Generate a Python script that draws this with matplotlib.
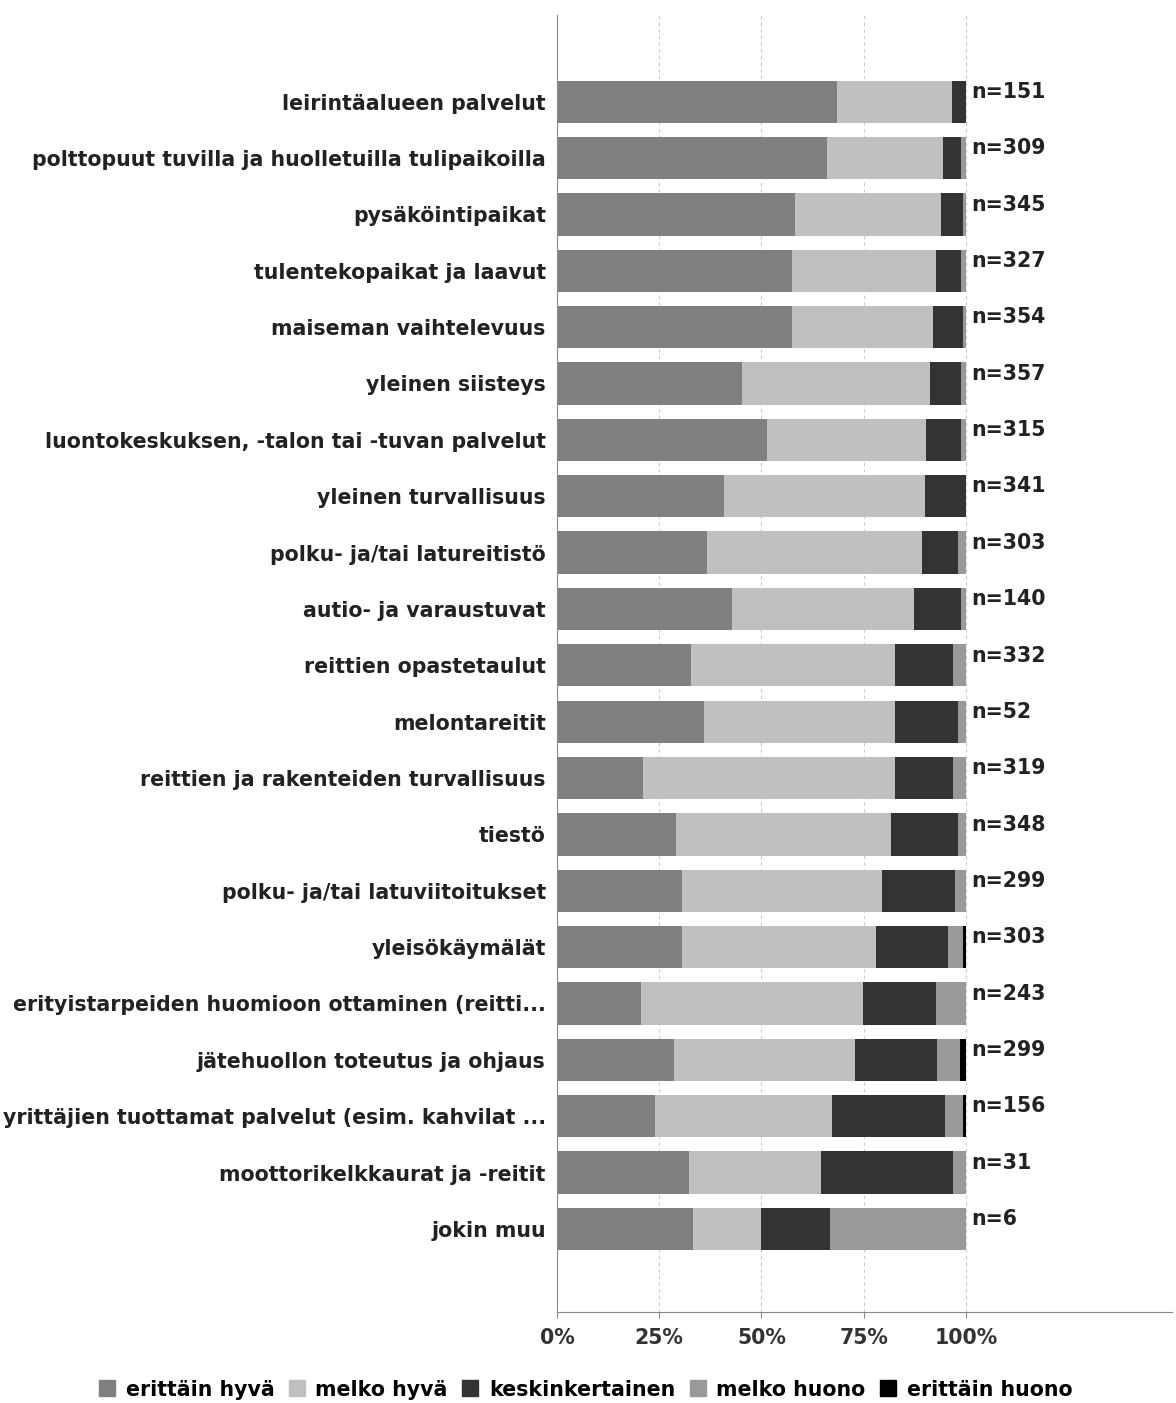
import matplotlib
matplotlib.use('Agg')
import matplotlib.pyplot as plt
from matplotlib.lines import Line2D

# data (percent shares per answer class)
categories = [
    'leirintäalueen palvelut',
    'polttopuut tuvilla ja huolletuilla tulipaikoilla',
    'pysäköintipaikat',
    'tulentekopaikat ja laavut',
    'maiseman vaihtelevuus',
    'yleinen siisteys',
    'luontokeskuksen, -talon tai -tuvan palvelut',
    'yleinen turvallisuus',
    'polku- ja/tai latureitistö',
    'autio- ja varaustuvat',
    'reittien opastetaulut',
    'melontareitit',
    'reittien ja rakenteiden turvallisuus',
    'tiestö',
    'polku- ja/tai latuviitoitukset',
    'yleisökäymälät',
    'erityistarpeiden huomioon ottaminen (reitti...',
    'jätehuollon toteutus ja ohjaus',
    'yrittäjien tuottamat palvelut (esim. kahvilat ...',
    'moottorikelkkaurat ja -reitit',
    'jokin muu',
]
n_labels = ['n=151', 'n=309', 'n=345', 'n=327', 'n=354', 'n=357', 'n=315',
            'n=341', 'n=303', 'n=140', 'n=332', 'n=52', 'n=319', 'n=348',
            'n=299', 'n=303', 'n=243', 'n=299', 'n=156', 'n=31', 'n=6']

erittain_hyva = [68.6, 66.0, 58.2, 57.5, 57.5, 45.2, 51.3, 40.9, 36.6, 42.8, 32.9,
                 36.0, 21.0, 29.0, 30.6, 30.5, 20.5, 28.5, 23.9, 32.3, 33.3]
melko_hyva = [28.1, 28.5, 35.6, 35.1, 34.4, 46.1, 38.9, 49.2, 52.7, 44.6, 49.8,
              46.7, 61.6, 52.6, 49.0, 47.4, 54.4, 44.4, 43.4, 32.3, 16.7]
keskinkertainen = [3.3, 4.2, 5.4, 6.1, 7.4, 7.4, 8.5, 9.9, 8.7, 11.3, 14.2,
                   15.3, 14.3, 16.4, 17.8, 17.8, 17.7, 20.1, 27.7, 32.2, 16.7]
melko_huono = [0, 1.3, 0.8, 1.3, 0.7, 1.3, 1.3, 0, 2.0, 1.3, 3.1,
               2.0, 3.1, 2.0, 2.6, 3.6, 7.4, 5.5, 4.3, 3.2, 33.3]
erittain_huono = [0, 0, 0, 0, 0, 0, 0, 0, 0, 0, 0,
                  0, 0, 0, 0, 0.7, 0, 1.5, 0.7, 0, 0]

series = [erittain_hyva, melko_hyva, keskinkertainen, melko_huono, erittain_huono]
series_names = ['erittäin hyvä', 'melko hyvä', 'keskinkertainen', 'melko huono', 'erittäin huono']
colors = ['#808080', '#c0c0c0', '#333333', '#999999', '#000000']

plt.rcParams['font.family'] = 'DejaVu Sans'
plt.rcParams['font.weight'] = 'bold'
fs = 14.8
txt_col = '#222222'

fig = plt.figure(figsize=(11.76, 14.03), dpi=100)
ax = fig.add_axes([0.4736, 0.065, 0.5230, 0.924])

y = list(range(len(categories)))
left = [0.0] * len(categories)
for vals, col in zip(series, colors):
    ax.barh(y, vals, left=left, height=0.75, color=col, zorder=2)
    left = [a + b for a, b in zip(left, vals)]

# n labels right of each bar
for i, lab in enumerate(n_labels):
    ax.annotate(lab, xy=(100, i), xytext=(4, 7), textcoords='offset points',
                ha='left', va='center', fontsize=fs, color=txt_col)

ax.set_xlim(0, 150.4)
ax.set_ylim(21.47, -1.53)
ax.set_yticks(y)
ax.set_yticklabels(categories, fontsize=fs, color=txt_col)
ax.set_xticks([0, 25, 50, 75, 100])
ax.set_xticklabels(['0%', '25%', '50%', '75%', '100%'], fontsize=fs, color='#333333')
ax.tick_params(axis='y', length=0, pad=8)
ax.tick_params(axis='x', length=4, color='#888888', pad=8)

for gx in [25, 50, 75, 100]:
    ax.axvline(gx, color='#cccccc', linestyle=(0, (3, 3)), linewidth=0.8, zorder=1)

for s in ['top', 'right']:
    ax.spines[s].set_visible(False)
ax.spines['left'].set_color('#888888')
ax.spines['bottom'].set_color('#888888')

handles = [Line2D([0], [0], marker='s', linestyle='', markersize=11,
                  markerfacecolor=c, markeredgecolor=c) for c in colors]
fig.legend(handles, series_names, loc='center', bbox_to_anchor=(0.497, 0.0095),
           ncol=5, frameon=False, fontsize=fs, handletextpad=0.4,
           columnspacing=0.6, handlelength=1.0)

fig.savefig('out.png', dpi=100)
